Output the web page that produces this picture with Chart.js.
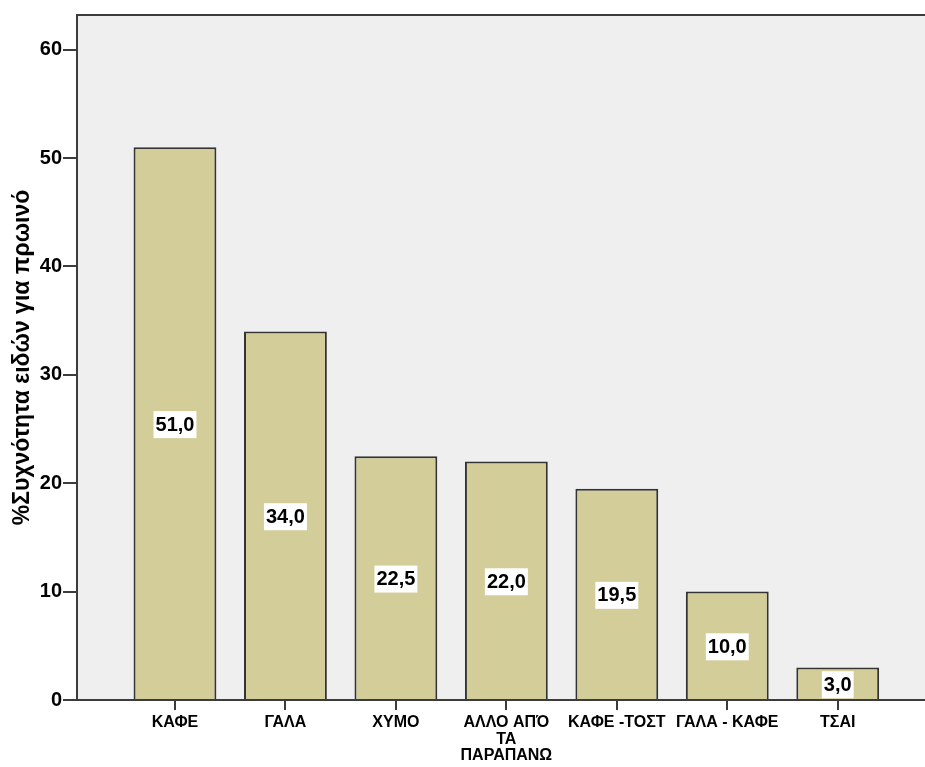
<!DOCTYPE html>
<html>
<head>
<meta charset="utf-8">
<script src="https://cdn.jsdelivr.net/npm/chart.js@4"></script>
<style>
  html, body { margin: 0; padding: 0; background: #fff; }
  #wrap { width: 925px; height: 767px; }
</style>
</head>
<body>
<div id="wrap"><canvas id="breakfastChart" width="925" height="767"></canvas></div>
<script>
const categories = ['ΚΑΦΕ', 'ΓΑΛΑ', 'ΧΥΜΟ', ['ΑΛΛΟ ΑΠΌ', 'ΤΑ', 'ΠΑΡΑΠΑΝΩ'], 'ΚΑΦΕ -ΤΟΣΤ', 'ΓΑΛΑ - ΚΑΦΕ', 'ΤΣΑΙ'];
const percents = [51.0, 34.0, 22.5, 22.0, 19.5, 10.0, 3.0];
const yTicks = [0, 10, 20, 30, 40, 50, 60];
const yTitle = '%Συχνότητα ειδών για πρωινό';

const FONT = '"Liberation Sans", Arial, sans-serif';

// plot background + frame (top and left border)
const framePlugin = {
  id: 'frame',
  beforeDraw(chart) {
    const { ctx, chartArea: a } = chart;
    ctx.save();
    ctx.fillStyle = '#efefef';
    ctx.fillRect(a.left, a.top, a.right - a.left, a.bottom - a.top);
    ctx.restore();
  },
  afterDraw(chart) {
    const { ctx, chartArea: a } = chart;
    ctx.save();
    ctx.strokeStyle = '#3c3c3c';
    ctx.lineWidth = 2;
    ctx.beginPath();
    ctx.moveTo(a.left, a.bottom);
    ctx.lineTo(a.left, a.top);
    ctx.lineTo(a.right, a.top);
    ctx.stroke();
    ctx.beginPath();
    ctx.moveTo(a.left, a.bottom);
    ctx.lineTo(a.right, a.bottom);
    ctx.stroke();
    ctx.restore();
  }
};

// white boxed value labels in the middle of each bar
const valueLabels = {
  id: 'valueLabels',
  afterDatasetsDraw(chart) {
    const { ctx } = chart;
    const meta = chart.getDatasetMeta(0);
    ctx.save();
    ctx.font = 'bold 20px ' + FONT;
    ctx.textAlign = 'center';
    ctx.textBaseline = 'middle';
    meta.data.forEach((bar, i) => {
      const { x, y, base } = bar.getProps(['x', 'y', 'base'], true);
      const txt = percents[i].toFixed(1).replace('.', ',');
      const cy = (y + base) / 2 + 1;
      const w = ctx.measureText(txt).width + 4;
      ctx.fillStyle = '#ffffff';
      ctx.fillRect(x - w / 2, cy - 13, w, 27);
      ctx.fillStyle = '#000000';
      ctx.fillText(txt, x, cy + 1);
    });
    ctx.restore();
  }
};

new Chart(document.getElementById('breakfastChart'), {
  type: 'bar',
  data: {
    datasets: [{
      data: percents.map((v, i) => ({ x: i, y: v })),
      backgroundColor: '#d3ce99',
      borderColor: '#333333',
      borderWidth: 2,
      barPercentage: 0.75,
      categoryPercentage: 1
    }]
  },
  options: {
    responsive: false,
    animation: false,
    layout: { padding: { top: 15, right: 0, left: 0, bottom: 0 } },
    plugins: { legend: { display: false }, tooltip: { enabled: false } },
    scales: {
      x: {
        type: 'linear',
        offset: false,
        min: -0.887,
        max: 6.79,
        afterBuildTicks(scale) {
          scale.ticks = categories.map((_, i) => ({ value: i }));
        },
        afterFit(scale) { scale.height = 67; },
        border: { display: false },
        grid: { offset: false, drawOnChartArea: false, tickLength: 10, color: '#3c3c3c', lineWidth: 2 },
        ticks: {
          autoSkip: false,
          maxRotation: 0,
          padding: 4,
          color: '#000',
          font: { family: FONT, size: 16, weight: 'bold', lineHeight: 1.05 },
          callback: (v) => categories[v]
        }
      },
      y: {
        min: 0,
        max: 63.2,
        afterBuildTicks(scale) {
          scale.ticks = yTicks.map(v => ({ value: v }));
        },
        afterFit(scale) { scale.width = 77; },
        border: { display: false },
        grid: { drawOnChartArea: false, tickLength: 14, color: '#3c3c3c', lineWidth: 2 },
        ticks: {
          padding: 1,
          color: '#000',
          font: { family: FONT, size: 20, weight: 'bold' }
        },
        title: {
          display: true,
          text: yTitle,
          color: '#000',
          padding: { top: 9, bottom: 0 },
          font: { family: FONT, size: 23, weight: 'bold' }
        }
      }
    }
  },
  plugins: [framePlugin, valueLabels]
});
</script>
</body>
</html>
